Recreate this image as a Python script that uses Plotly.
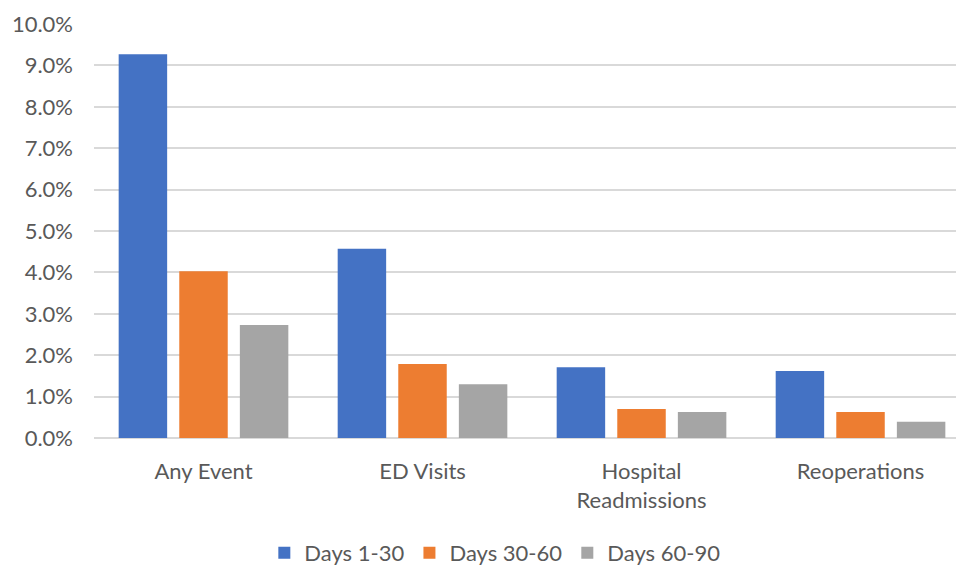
import plotly.graph_objects as go

categories = ["Any Event", "ED Visits", "Hospital<br>Readmissions", "Reoperations"]
days_1_30 = [9.27, 4.57, 1.71, 1.62]
days_30_60 = [4.03, 1.79, 0.70, 0.63]
days_60_90 = [2.73, 1.30, 0.63, 0.39]

series = [
    ("Days 1-30", days_1_30, "#4472C4"),
    ("Days 30-60", days_30_60, "#ED7D31"),
    ("Days 60-90", days_60_90, "#A5A5A5"),
]

fig = go.Figure()
for name, vals, color in series:
    fig.add_trace(go.Bar(
        x=categories, y=vals, name=name,
        marker=dict(color=color, line=dict(width=0)),
    ))

font_family = "Lato, 'Open Sans', sans-serif"
fig.update_layout(
    width=956, height=567,
    margin=dict(l=94, r=0, t=24, b=129),
    paper_bgcolor="white", plot_bgcolor="white",
    barmode="group", bargap=0.17, bargroupgap=0.2,
    font=dict(family=font_family, size=22, color="#595959"),
    legend=dict(
        orientation="h", x=0.465, xanchor="center",
        yref="container", y=0.025, yanchor="middle",
        font=dict(size=22, color="#595959"), itemwidth=30, tracegroupgap=0,
    ),
    showlegend=True,
)
fig.update_xaxes(
    range=[-0.5, 3.436], showgrid=False, zeroline=False, showline=False,
    automargin=False,
    ticks="", ticklabelstandoff=18, tickfont=dict(size=22, color="#595959"),
)
fig.update_yaxes(
    range=[0, 10], dtick=1, tickformat=".1f", ticksuffix="%",
    showgrid=True, gridcolor="#d9d9d9", gridwidth=1.5,
    zeroline=True, zerolinecolor="#d9d9d9", zerolinewidth=1.5,
    showline=False, ticks="", ticklabelstandoff=20, automargin=False,
    tickfont=dict(size=22, color="#595959"),
)

fig.write_html("out.html")
